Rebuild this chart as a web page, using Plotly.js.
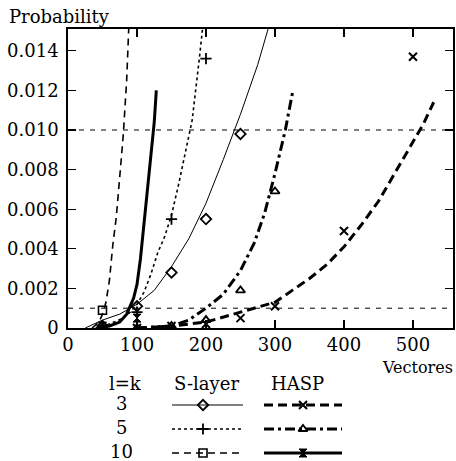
<!DOCTYPE html>
<html><head><meta charset="utf-8">
<script src="https://cdn.plot.ly/plotly-3.0.1.min.js"></script>
<style>body{margin:0;background:#fff}#c{width:456px;height:461px}</style>
</head><body><div id="c"></div>
<script>
// ---- data ----
// S-layer curves (thin)
const sl3X = [25, 50, 75, 100, 125, 150, 175, 200, 225, 250, 275, 290];
const sl3Y = [0, 0.0004, 0.0007, 0.0012, 0.0019, 0.0031, 0.0045, 0.0063, 0.0085, 0.0108, 0.0133, 0.0151];
const sl5X = [40, 60, 80, 90, 100, 110, 120, 130, 140, 150, 160, 170, 180, 190, 195];
const sl5Y = [0, 0.0002, 0.0005, 0.0008, 0.0012, 0.0018, 0.0027, 0.0038, 0.0046, 0.0057, 0.0072, 0.0088, 0.0105, 0.0135, 0.0151];
const sl10X = [35, 45, 50, 55, 60, 65, 70, 75, 80, 85, 88];
const sl10Y = [0, 0.0003, 0.0007, 0.0013, 0.0024, 0.0042, 0.0056, 0.0078, 0.0097, 0.0125, 0.0151];
// HASP curves (thick)
const h3X = [100, 150, 200, 250, 300, 325, 350, 375, 400, 425, 450, 475, 500, 515, 530];
const h3Y = [0, 0.0001, 0.0003, 0.0008, 0.0013, 0.0019, 0.0025, 0.0032, 0.0041, 0.0052, 0.0064, 0.0079, 0.0094, 0.0103, 0.0114];
const h5X = [100, 150, 175, 200, 225, 250, 270, 285, 300, 315, 326];
const h5Y = [0, 0.0001, 0.0004, 0.001, 0.0017, 0.0029, 0.0043, 0.0058, 0.0078, 0.0100, 0.0120];
const h10X = [45, 60, 75, 85, 95, 100, 105, 110, 115, 120, 125, 128];
const h10Y = [0, 0.0001, 0.0003, 0.0007, 0.0015, 0.0022, 0.0035, 0.0052, 0.0068, 0.0085, 0.0104, 0.0120];
// measured points (markers)
const sl3PX = [50, 100, 150, 200, 250];
const sl3PY = [0.0001, 0.0011, 0.0028, 0.0055, 0.0098];
const sl5PX = [50, 100, 150, 200];
const sl5PY = [0.0001, 0.0008, 0.0055, 0.0136];
const sl10PX = [50];
const sl10PY = [0.0009];
const h3PX = [50, 100, 150, 200, 250, 300, 400, 500];
const h3PY = [0, 0, 0.0001, 0.0002, 0.0005, 0.0011, 0.0049, 0.0137];
const h5PX = [50, 100, 150, 200, 250, 300];
const h5PY = [0, 0, 0.0001, 0.0004, 0.0019, 0.0069];
const h10PX = [50, 100];
const h10PY = [0.0001, 0.0005];
// reference levels
const refLevels = [0.001, 0.010];
// ticks
const yTickVals = [0, 0.002, 0.004, 0.006, 0.008, 0.010, 0.012, 0.014];
const yTickText = ['0', '0.002', '0.004', '0.006', '0.008', '0.010', '0.012', '0.014'];
const xTickVals = [0, 100, 200, 300, 400, 500];
// legend table
const legendRows = ['3', '5', '10'];

const FONT = 'DejaVu Serif';
const FS = 18;
const K = '#000';

const styles = {
  sl3: {line: {color: K, width: 1, dash: 'solid'}, marker: {symbol: 'diamond-open', size: 8, color: K, line: {width: 1.8, color: K}}},
  sl5: {line: {color: K, width: 1.6, dash: 'dot'}, marker: {symbol: 'cross-thin-open', size: 8, color: K, line: {width: 1.8, color: K}}},
  sl10: {line: {color: K, width: 1.6, dash: '7px,5px'}, marker: {symbol: 'square-open', size: 8, color: K, line: {width: 1.6, color: K}}},
  h3: {line: {color: K, width: 3, dash: '9px,5px'}, marker: {symbol: 'x-thin-open', size: 8, color: K, line: {width: 2, color: K}}},
  h5: {line: {color: K, width: 3, dash: '10px,4px,3px,4px'}, marker: {symbol: 'triangle-up-open', size: 8, color: K, line: {width: 1.8, color: K}}},
  h10: {line: {color: K, width: 3, dash: 'solid'}, marker: {symbol: 'hourglass', size: 8, color: K, line: {width: 1, color: K}}}
};

function curve(x, y, s) {
  return {x, y, mode: 'lines', line: s.line, showlegend: false, hoverinfo: 'skip', cliponaxis: true, xaxis: 'x', yaxis: 'y'};
}
function pts(x, y, s) {
  return {x, y, mode: 'markers', marker: s.marker, showlegend: false, cliponaxis: true, xaxis: 'x', yaxis: 'y'};
}

const traces = [
  curve(sl3X, sl3Y, styles.sl3), curve(sl5X, sl5Y, styles.sl5), curve(sl10X, sl10Y, styles.sl10),
  curve(h3X, h3Y, styles.h3), curve(h5X, h5Y, styles.h5), curve(h10X, h10Y, styles.h10),
  pts(sl3PX, sl3PY, styles.sl3), pts(sl5PX, sl5PY, styles.sl5), pts(sl10PX, sl10PY, styles.sl10),
  pts(h3PX, h3PY, styles.h3), pts(h5PX, h5PY, styles.h5), pts(h10PX, h10PY, styles.h10)
];

// legend table drawn on a second (hidden) axis pair, pixel-like units
const rowY = [405, 429, 453];
const slKeys = ['sl3', 'sl5', 'sl10'];
const hKeys = ['h3', 'h5', 'h10'];
rowY.forEach((yy, i) => {
  [[slKeys[i], 172, 243, 203], [hKeys[i], 264, 342, 303]].forEach(([k, a, b, m]) => {
    traces.push({x: [a, b], y: [yy, yy], mode: 'lines', line: styles[k].line, xaxis: 'x2', yaxis: 'y2', showlegend: false, hoverinfo: 'skip'});
    traces.push({x: [m], y: [yy], mode: 'markers', marker: styles[k].marker, xaxis: 'x2', yaxis: 'y2', showlegend: false, hoverinfo: 'skip'});
  });
});

const annFont = {family: FONT, size: FS, color: K};
const annotations = [
  {xref: 'paper', yref: 'paper', x: -0.158, y: (461 - 16) / 432, xanchor: 'left', yanchor: 'middle', text: 'Probability', showarrow: false, font: annFont},
  {xref: 'paper', yref: 'paper', x: 1.005, y: (461 - 367) / 432, xanchor: 'right', yanchor: 'middle', text: 'Vectores', showarrow: false, font: {family: FONT, size: 16, color: K}},
  {xref: 'x2', yref: 'y2', x: 125, y: 383, xanchor: 'center', yanchor: 'middle', text: 'l=k', showarrow: false, font: annFont},
  {xref: 'x2', yref: 'y2', x: 206, y: 383, xanchor: 'center', yanchor: 'middle', text: 'S-layer', showarrow: false, font: annFont},
  {xref: 'x2', yref: 'y2', x: 297, y: 383, xanchor: 'center', yanchor: 'middle', text: 'HASP', showarrow: false, font: annFont}
];
legendRows.forEach((t, i) => {
  annotations.push({xref: 'x2', yref: 'y2', x: 121, y: rowY[i] - 2, xanchor: 'center', yanchor: 'middle', text: t, showarrow: false, font: annFont});
});

const shapes = refLevels.map(v => ({type: 'line', xref: 'paper', yref: 'y', x0: 0, x1: 1, y0: v, y1: v, line: {color: K, width: 1, dash: '5px,6px'}}));

const layout = {
  width: 456, height: 461,
  margin: {l: 68, r: 3, t: 29, b: 0, pad: 0},
  paper_bgcolor: '#fff', plot_bgcolor: '#fff',
  font: {family: FONT, size: FS, color: K},
  showlegend: false,
  xaxis: {
    domain: [0, 1], anchor: 'y', range: [0, 558], tickvals: xTickVals, ticks: 'inside', ticklen: 8, tickwidth: 1.3, tickcolor: K,
    showline: true, linewidth: 1.8, linecolor: K, mirror: 'ticks', showgrid: false, zeroline: false,
    tickfont: {family: FONT, size: FS, color: K}
  },
  yaxis: {
    domain: [(461 - 328) / 432, 1], anchor: 'x', range: [0, 0.0151], tickvals: yTickVals, ticktext: yTickText, ticks: 'inside', ticklen: 8, tickwidth: 1.3, tickcolor: K,
    showline: true, linewidth: 1.8, linecolor: K, mirror: 'ticks', showgrid: false, zeroline: false,
    tickfont: {family: FONT, size: FS, color: K}, ticklabelstandoff: 4
  },
  xaxis2: {domain: [0, 1], anchor: 'y2', range: [68, 453], visible: false, fixedrange: true},
  yaxis2: {domain: [0, 0.25], anchor: 'x2', range: [461, 353], visible: false, fixedrange: true},
  shapes, annotations
};

Plotly.newPlot('c', traces, layout, {staticPlot: true, displayModeBar: false});
</script></body></html>
